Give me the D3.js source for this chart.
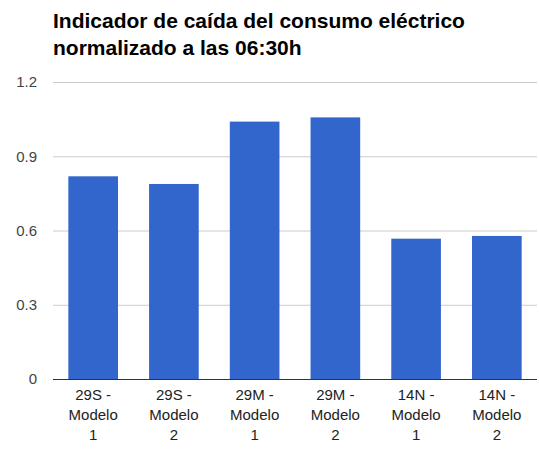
<!DOCTYPE html>
<html>
<head>
<meta charset="utf-8">
<script src="https://cdn.jsdelivr.net/npm/d3@7"></script>
<style>
  body { margin: 0; background: #fff; }
  text { font-family: "Liberation Sans", Arial, sans-serif; }
</style>
</head>
<body>
<div id="vis"></div>
<script>
const categories = [
  ['29S -', 'Modelo', '1'],
  ['29S -', 'Modelo', '2'],
  ['29M -', 'Modelo', '1'],
  ['29M -', 'Modelo', '2'],
  ['14N -', 'Modelo', '1'],
  ['14N -', 'Modelo', '2']
];
const values = [0.819, 0.788, 1.040, 1.057, 0.567, 0.578];
const yTicks = [0, 0.3, 0.6, 0.9, 1.2];
const titleLines = ['Indicador de caída del consumo eléctrico', 'normalizado a las 06:30h'];

const W = 539, H = 451;
const margin = {top: 82, right: 2, bottom: 72, left: 53};
const width = W - margin.left - margin.right;
const height = H - margin.top - margin.bottom;

const root = d3.select('#vis')
    .append('svg')
    .attr('width', W)
    .attr('height', H);

root.append('g')
    .selectAll('text')
    .data(titleLines)
    .join('text')
    .attr('x', margin.left)
    .attr('y', (d, i) => 27.5 + i * 27.5)
    .style('font-size', '21px')
    .style('font-weight', 'bold')
    .style('fill', '#000')
    .text(d => d);

const svg = root.append('g')
    .attr('transform', `translate(${margin.left},${margin.top})`);

const xScale = d3.scaleBand()
    .domain(d3.range(categories.length))
    .range([0, width])
    .paddingInner(0.385)
    .paddingOuter(0.19);

const yScale = d3.scaleLinear()
    .domain([0, 1.2])
    .range([height, 0]);

// gridlines
svg.append('g')
    .selectAll('line')
    .data(yTicks.filter(d => d > 0))
    .join('line')
    .attr('x1', 0)
    .attr('x2', width)
    .attr('y1', d => yScale(d) + 0.5)
    .attr('y2', d => yScale(d) + 0.5)
    .style('stroke', '#cccccc')
    .style('stroke-width', 1);

// y labels
svg.append('g')
    .selectAll('text')
    .data(yTicks)
    .join('text')
    .attr('x', -16)
    .attr('y', d => yScale(d))
    .attr('dy', '0.35em')
    .style('text-anchor', 'end')
    .style('font-size', '15px')
    .style('fill', '#444')
    .text(d => d3.format('')(d));

// bars
svg.selectAll('.bar')
    .data(values)
    .join('rect')
    .attr('class', 'bar')
    .attr('x', (d, i) => xScale(i))
    .attr('width', xScale.bandwidth())
    .attr('y', d => yScale(d))
    .attr('height', d => height - yScale(d))
    .style('fill', '#3366cc');

// baseline
svg.append('line')
    .attr('x1', 0)
    .attr('x2', width)
    .attr('y1', height + 0.5)
    .attr('y2', height + 0.5)
    .style('stroke', '#333')
    .style('stroke-width', 1);

// x labels
const xl = svg.append('g')
    .selectAll('text')
    .data(categories)
    .join('text')
    .attr('x', (d, i) => xScale(i) + xScale.bandwidth() / 2)
    .attr('y', height + 21)
    .style('text-anchor', 'middle')
    .style('font-size', '15px')
    .style('fill', '#222');

xl.selectAll('tspan')
    .data(d => d)
    .join('tspan')
    .attr('x', function() { return d3.select(this.parentNode).attr('x'); })
    .attr('dy', (d, i) => i === 0 ? 0 : 20)
    .text(d => d);
</script>
</body>
</html>
